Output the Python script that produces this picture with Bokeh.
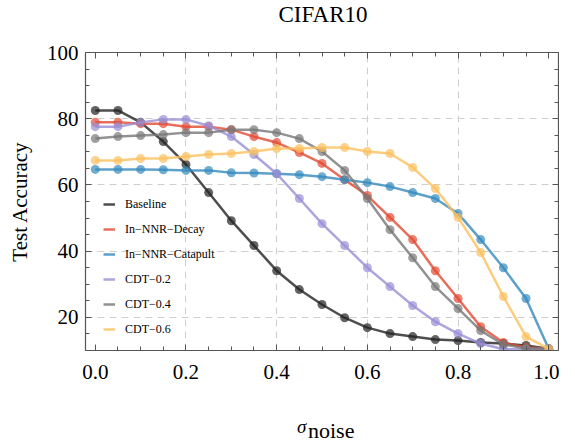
from bokeh.plotting import figure
from bokeh.layouts import column
from bokeh.models import (LinearAxis, SingleIntervalTicker, PrintfTickFormatter, Legend,
                          LegendItem, FixedTicker, Range1d, Div)
from bokeh.embed import file_html
from bokeh.resources import INLINE

# ---- data ----
sigma = [0.0, 0.05, 0.1, 0.15, 0.2, 0.25, 0.3, 0.35, 0.4, 0.45, 0.5,
         0.55, 0.6, 0.65, 0.7, 0.75, 0.8, 0.85, 0.9, 0.95, 1.0]
baseline = [82.5, 82.5, 78.9, 73.1, 66.2, 57.7, 49.2, 41.7, 34.1, 28.4, 23.9,
            19.9, 16.9, 15.1, 14.2, 13.3, 13.0, 12.4, 12.1, 11.5, 10.5]
nnr_decay = [78.9, 78.9, 78.5, 78.5, 77.6, 77.6, 76.7, 74.6, 72.8, 69.8, 66.5,
             61.6, 56.8, 50.2, 43.5, 34.1, 25.7, 17.2, 12.4, 10.9, 10.5]
nnr_catapult = [64.7, 64.7, 64.7, 64.6, 64.4, 64.4, 63.7, 63.6, 63.4, 63.1, 62.5,
                61.6, 60.7, 59.5, 57.7, 55.9, 51.4, 43.5, 35.0, 25.7, 10.5]
cdt_02 = [77.6, 77.6, 78.9, 79.8, 79.8, 77.9, 74.6, 69.2, 63.4, 55.9, 48.3,
          41.7, 35.0, 29.3, 23.6, 18.7, 15.1, 12.1, 10.4, 10.4, 10.5]
cdt_04 = [74.0, 74.6, 74.9, 75.2, 75.8, 75.8, 76.7, 76.7, 75.8, 74.0, 70.1,
          64.4, 55.9, 46.5, 38.0, 29.3, 22.7, 16.0, 11.8, 10.6, 10.5]
cdt_06 = [67.4, 67.4, 68.0, 68.0, 68.6, 69.2, 69.5, 70.1, 71.0, 71.0, 71.3,
          71.3, 70.1, 69.5, 65.3, 58.9, 50.2, 39.6, 26.3, 14.2, 10.5]

series_names = ["Baseline", "In\u2212NNR\u2212Decay", "In\u2212NNR\u2212Catapult",
                "CDT\u22120.2", "CDT\u22120.4", "CDT\u22120.6"]
series_values = [baseline, nnr_decay, nnr_catapult, cdt_02, cdt_04, cdt_06]
series_colors = ["#222222", "#E24A33", "#348ABD", "#988ED5", "#777777", "#FBC15E"]
title_text = "CIFAR10"

FONT = "Liberation Serif"
SPINE = "#555555"

# title as real HTML text above the plot
title_div = Div(
    width=559, height=28, margin=0,
    text=("<div style=\"position:relative;width:559px;height:28px;"
          "font-family:'Liberation Serif',serif;color:black;\">"
          "<span style=\"position:absolute;left:323px;top:3px;font-size:23px;line-height:1;"
          "transform:translateX(-50%);white-space:nowrap;\">" + title_text + "</span></div>"))

p = figure(width=559, height=367, x_range=Range1d(-0.0216, 1.0216),
           y_range=Range1d(10, 100), output_backend="svg", toolbar_location=None,
           min_border_left=85, min_border_right=1, min_border_top=24, min_border_bottom=45,
           x_axis_location=None, y_axis_location=None)
p.outline_line_color = None
p.background_fill_color = "white"
p.border_fill_color = "white"


def style_axis(ax, show_labels):
    ax.axis_line_color = SPINE
    ax.axis_line_width = 1.2
    ax.major_tick_line_color = SPINE
    ax.minor_tick_line_color = SPINE
    ax.major_tick_in = 6
    ax.major_tick_out = 0
    ax.minor_tick_in = 4
    ax.minor_tick_out = 0
    ax.major_label_text_font = FONT
    if show_labels:
        ax.major_label_text_color = "black"
        ax.major_label_text_font_size = "21px"
    else:
        ax.major_label_text_color = None
        ax.major_label_text_alpha = 0
        ax.major_label_text_font_size = "1px"
        ax.major_label_standoff = 0


xt = SingleIntervalTicker(interval=0.2, num_minor_ticks=4)
yt = SingleIntervalTicker(interval=20, num_minor_ticks=4)

xb = LinearAxis(ticker=xt, formatter=PrintfTickFormatter(format="%.1f"))
style_axis(xb, True)
xb.major_label_standoff = 14
p.add_layout(xb, "below")

xa = LinearAxis(ticker=xt)
style_axis(xa, False)
p.add_layout(xa, "above")

yl = LinearAxis(ticker=yt, axis_label="Test Accuracy")
style_axis(yl, True)
yl.major_label_standoff = 7
yl.axis_label_text_font = FONT
yl.axis_label_text_font_size = "21px"
yl.axis_label_text_font_style = "normal"
yl.axis_label_text_color = "black"
yl.axis_label_standoff = 12
p.add_layout(yl, "left")

yr = LinearAxis(ticker=yt)
style_axis(yr, False)
p.add_layout(yr, "right")

# grid
p.xgrid.ticker = FixedTicker(ticks=[0.2, 0.4, 0.6, 0.8])
p.ygrid.ticker = FixedTicker(ticks=[20, 40, 60, 80])
for g in (p.xgrid, p.ygrid):
    g.grid_line_color = "#cfcfcf"
    g.grid_line_dash = "7 5"
    g.grid_line_width = 1

items = []
for name, vals, col in zip(series_names, series_values, series_colors):
    ln = p.line(sigma, vals, line_color=col, line_width=2.5, line_alpha=0.8)
    p.scatter(sigma, vals, size=9, fill_color=col, line_color=col,
              fill_alpha=0.7, line_alpha=0.0)
    items.append(LegendItem(label=name, renderers=[ln]))

legend = Legend(items=items, location=(18, 11), border_line_color=None,
                background_fill_alpha=0.0, padding=0, margin=0, spacing=5,
                glyph_width=12, glyph_height=20, label_height=20, label_standoff=10,
                label_text_font=FONT, label_text_font_size="12px", label_text_color="black")
p.add_layout(legend, "center")

# x-axis label: sigma with subscript "noise" (real HTML text below the plot)
xlabel = Div(
    width=559, height=37, margin=0,
    text=("<div style=\"position:relative;width:559px;height:37px;"
          "font-family:'Liberation Serif',serif;color:black;\">"
          "<span style=\"position:absolute;left:297px;top:22px;font-size:19px;"
          "line-height:1;font-style:italic;\">\u03c3</span>"
          "<span style=\"position:absolute;left:308px;top:25px;font-size:22px;"
          "line-height:1;\">noise</span></div>"))

layout = column(title_div, p, xlabel, spacing=0)
open("out.html", "w").write(file_html(layout, INLINE))
